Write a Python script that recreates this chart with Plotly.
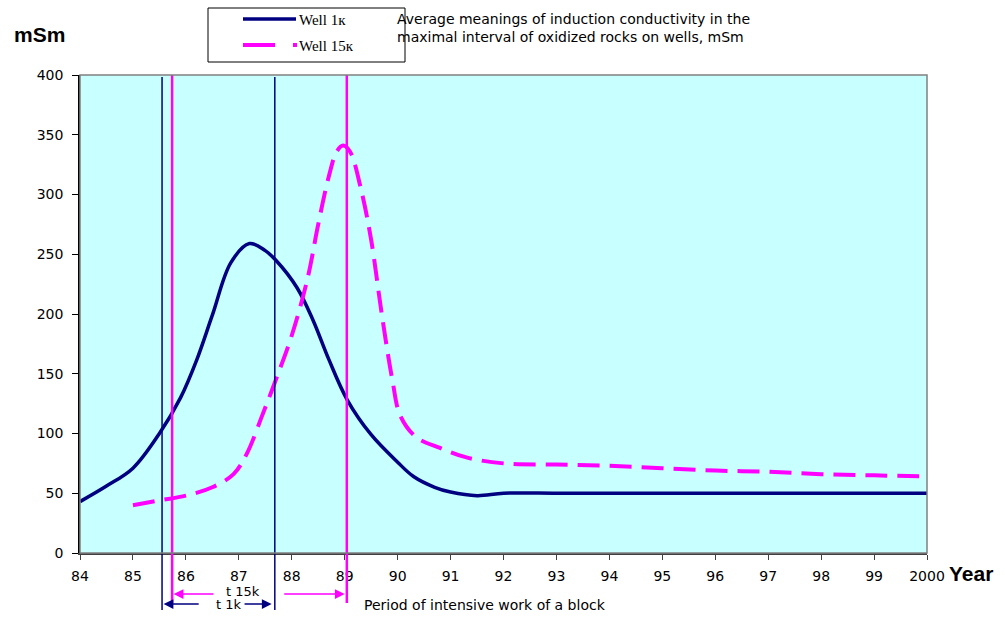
import plotly.graph_objects as go

# ---- data ----
well1_x = [84, 84.5, 85, 85.5, 85.9, 86.2, 86.5, 86.85, 87.2, 87.5, 87.7, 88.1, 88.4, 88.7, 89.05,
           89.5, 90, 90.3, 90.7, 91, 91.5, 92, 93, 94, 95, 96, 97, 98, 99, 100]
well1_y = [43, 56, 71, 100, 130, 161, 199, 243, 259, 253, 245, 222, 195, 162, 128,
           99, 76, 64, 55, 51, 48, 50, 50, 50, 50, 50, 50, 50, 50, 50]

well15_x = [85, 85.5, 86, 86.5, 86.9, 87.15, 87.45, 87.7, 88, 88.3, 88.5, 88.7, 88.85, 88.97, 89.1,
            89.3, 89.5, 89.7, 89.9, 90.05, 90.35, 90.8, 91.3, 92, 93, 94, 95, 96, 97, 98, 99, 100]
well15_y = [40, 44, 48, 55, 66, 83, 116, 145, 182, 230, 275, 315, 336, 341, 336,
            306, 262, 200, 145, 115, 97, 88, 80, 75, 74, 73, 71, 69, 68, 66, 65, 64]

x_ticks = list(range(84, 101))
x_ticklabels = [str(v) for v in range(84, 100)] + ["2000"]
y_ticks = list(range(0, 401, 50))

period_1k = [85.55, 87.68]
period_15k = [85.74, 89.04]

series_names = ["Well 1к", "Well 15к"]

NAVY = "#000080"
PINK = "#FF00FF"
SANS = "DejaVu Sans"

# plot area in pixels (for converting layout positions to paper coords)
L, R, T, B = 80, 927, 75, 553
def px(x):
    return (x - L) / (R - L)
def py(y):
    return (B - y) / (B - T)

fig = go.Figure()
fig.add_trace(go.Scatter(x=well1_x, y=well1_y, mode="lines", name=series_names[0], showlegend=False,
                         line=dict(color=NAVY, width=3.5, shape="spline", smoothing=1.0)))
fig.add_trace(go.Scatter(x=well15_x, y=well15_y, mode="lines", name=series_names[1], showlegend=False,
                         line=dict(color=PINK, width=4, dash="22px,10px", shape="spline", smoothing=1.0)))

# vertical period lines
for xv in period_1k:
    fig.add_shape(type="line", xref="x", yref="paper", x0=xv, x1=xv, y0=py(610), y1=py(77),
                  line=dict(color=NAVY, width=1.5))
for xv in period_15k:
    fig.add_shape(type="line", xref="x", yref="paper", x0=xv, x1=xv, y0=py(603), y1=py(75),
                  line=dict(color=PINK, width=2.5))

# plot frame (gray top/right)
fig.add_shape(type="rect", xref="paper", yref="paper", x0=0, x1=1, y0=0, y1=1,
              line=dict(color="#808080", width=1.5), layer="above")

# arrows below axis
arrows = [
    (period_15k[0] + 0.03, py(594), 86.55, PINK),
    (period_15k[1] - 0.04, py(594), 87.83, PINK),
    (period_1k[0] + 0.03, py(604), 86.27, NAVY),
    (period_1k[1] - 0.06, py(604), 87.08, NAVY),
]
for xh, yy, xt, col in arrows:
    fig.add_annotation(x=xh, y=yy, ax=xt, ay=0, xref="x", yref="paper", axref="x", ayref="pixel",
                       text="", showarrow=True, arrowhead=2, arrowsize=1.3, arrowwidth=1.5,
                       arrowcolor=col)

fig.add_annotation(x=87.08, y=py(591), xref="x", yref="paper", text="t 15k", showarrow=False,
                   yanchor="middle", xanchor="center",
                   font=dict(family=SANS, size=13, color="black"))
fig.add_annotation(x=86.82, y=py(604), xref="x", yref="paper", text="t 1k", showarrow=False,
                   yanchor="middle", xanchor="center",
                   font=dict(family=SANS, size=13, color="black"))
fig.add_annotation(x=px(362), y=py(605), xref="paper", yref="paper",
                   text="Period of intensive work of a block", showarrow=False,
                   xanchor="left", yanchor="middle",
                   font=dict(family=SANS, size=14, color="black"))

# title text
fig.add_annotation(x=px(395), y=py(9), xref="paper", yref="paper",
                   text="Average meanings of induction conductivity in the<br>maximal interval of oxidized rocks on wells, mSm",
                   showarrow=False, xanchor="left", yanchor="top", align="left",
                   font=dict(family=SANS, size=14, color="black"))

# legend (drawn as a boxed key)
fig.add_shape(type="rect", xref="paper", yref="paper", x0=px(208), x1=px(405), y0=py(62), y1=py(8),
              line=dict(color="black", width=1), fillcolor="white")
fig.add_shape(type="line", xref="paper", yref="paper", x0=px(243), x1=px(296), y0=py(19), y1=py(19),
              line=dict(color=NAVY, width=3.5))
fig.add_shape(type="line", xref="paper", yref="paper", x0=px(243), x1=px(297), y0=py(45), y1=py(45),
              line=dict(color=PINK, width=4, dash="32px,18px"))
for name, yy in zip(series_names, [20, 46]):
    fig.add_annotation(x=px(297), y=py(yy), xref="paper", yref="paper", text=name, showarrow=False,
                       xanchor="left", yanchor="middle",
                       font=dict(family="Liberation Serif", size=15, color="black"))

# axis titles
fig.add_annotation(x=px(39), y=py(34), xref="paper", yref="paper",
                   text="<b>mSm</b>", showarrow=False, xanchor="center", yanchor="middle",
                   font=dict(family="Arial", size=21, color="black"))
fig.add_annotation(x=px(947), y=py(573), xref="paper", yref="paper",
                   text="<b>Year</b>", showarrow=False, xanchor="left", yanchor="middle",
                   font=dict(family="Arial", size=21, color="black"))

fig.update_layout(
    width=1005, height=619,
    margin=dict(l=80, r=78, t=75, b=66),
    paper_bgcolor="white",
    plot_bgcolor="#C8FFFF",
    showlegend=False,
)
fig.update_xaxes(range=[84, 100], tickvals=x_ticks, ticktext=x_ticklabels,
                 showgrid=False, zeroline=False, showline=True, linecolor="#404040", linewidth=1.5,
                 ticks="outside", ticklen=5, tickcolor="#404040", ticklabelstandoff=4,
                 tickfont=dict(family=SANS, size=14, color="black"))
fig.update_yaxes(range=[0, 400], tickvals=y_ticks,
                 showgrid=False, zeroline=False, showline=True, linecolor="black", linewidth=1.5,
                 ticks="outside", ticklen=6, tickcolor="black", ticklabelstandoff=6,
                 tickfont=dict(family=SANS, size=14, color="black"))

fig.write_html("out.html", config={"displayModeBar": False},
               post_script="document.body.style.margin='0';")
